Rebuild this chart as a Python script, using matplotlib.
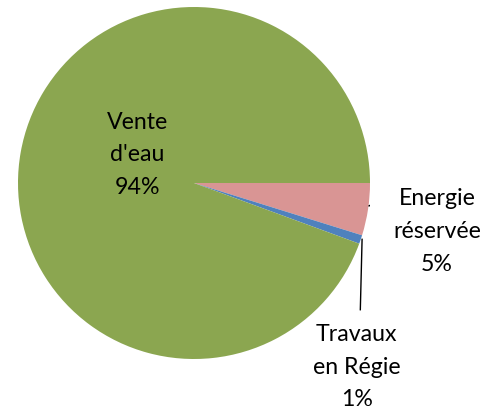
import matplotlib
matplotlib.use("Agg")
import matplotlib.pyplot as plt

labels = ["Energie\nréservée\n5%", "Travaux\nen Régie\n1%", "Vente\nd'eau\n94%"]
values = [4.8, 0.8, 94.4]
colors = ["#D99594", "#4F81BD", "#8BA650"]

plt.rcParams["font.family"] = ["Lato", "DejaVu Sans"]

fig = plt.figure(figsize=(4.98, 4.10), dpi=100)
# pie centred at (194, 184) px, radius 176 px
ax = fig.add_axes([18 / 498, (410 - 360) / 410, 352 / 498, 352 / 410])
ax.pie(values, colors=colors, startangle=0, counterclock=False,
       wedgeprops={"linewidth": 0})
ax.set_xlim(-1, 1)
ax.set_ylim(-1, 1)
ax.set_aspect("auto")

fs = 16.7
ls = 1.68
# Vente d'eau inside
ax.text(-0.32, 0.165, labels[2], ha="center", va="center", fontsize=fs,
        linespacing=ls)

# Energie réservée outside with leader
ax.plot([0.995, 1.03, 1.12], [-0.13, -0.11, -0.11], color="black", lw=1)
ax.text(1.38, -0.27, labels[0], ha="center", va="center", fontsize=fs,
        linespacing=ls, clip_on=False)

# Travaux en Régie below with leader
ax.plot([0.955, 0.945], [-0.32, -0.72], color="black", lw=1)
ax.text(0.925, -1.04, labels[1], ha="center", va="center", fontsize=fs,
        linespacing=ls, clip_on=False)

fig.savefig("out.png", dpi=100)
